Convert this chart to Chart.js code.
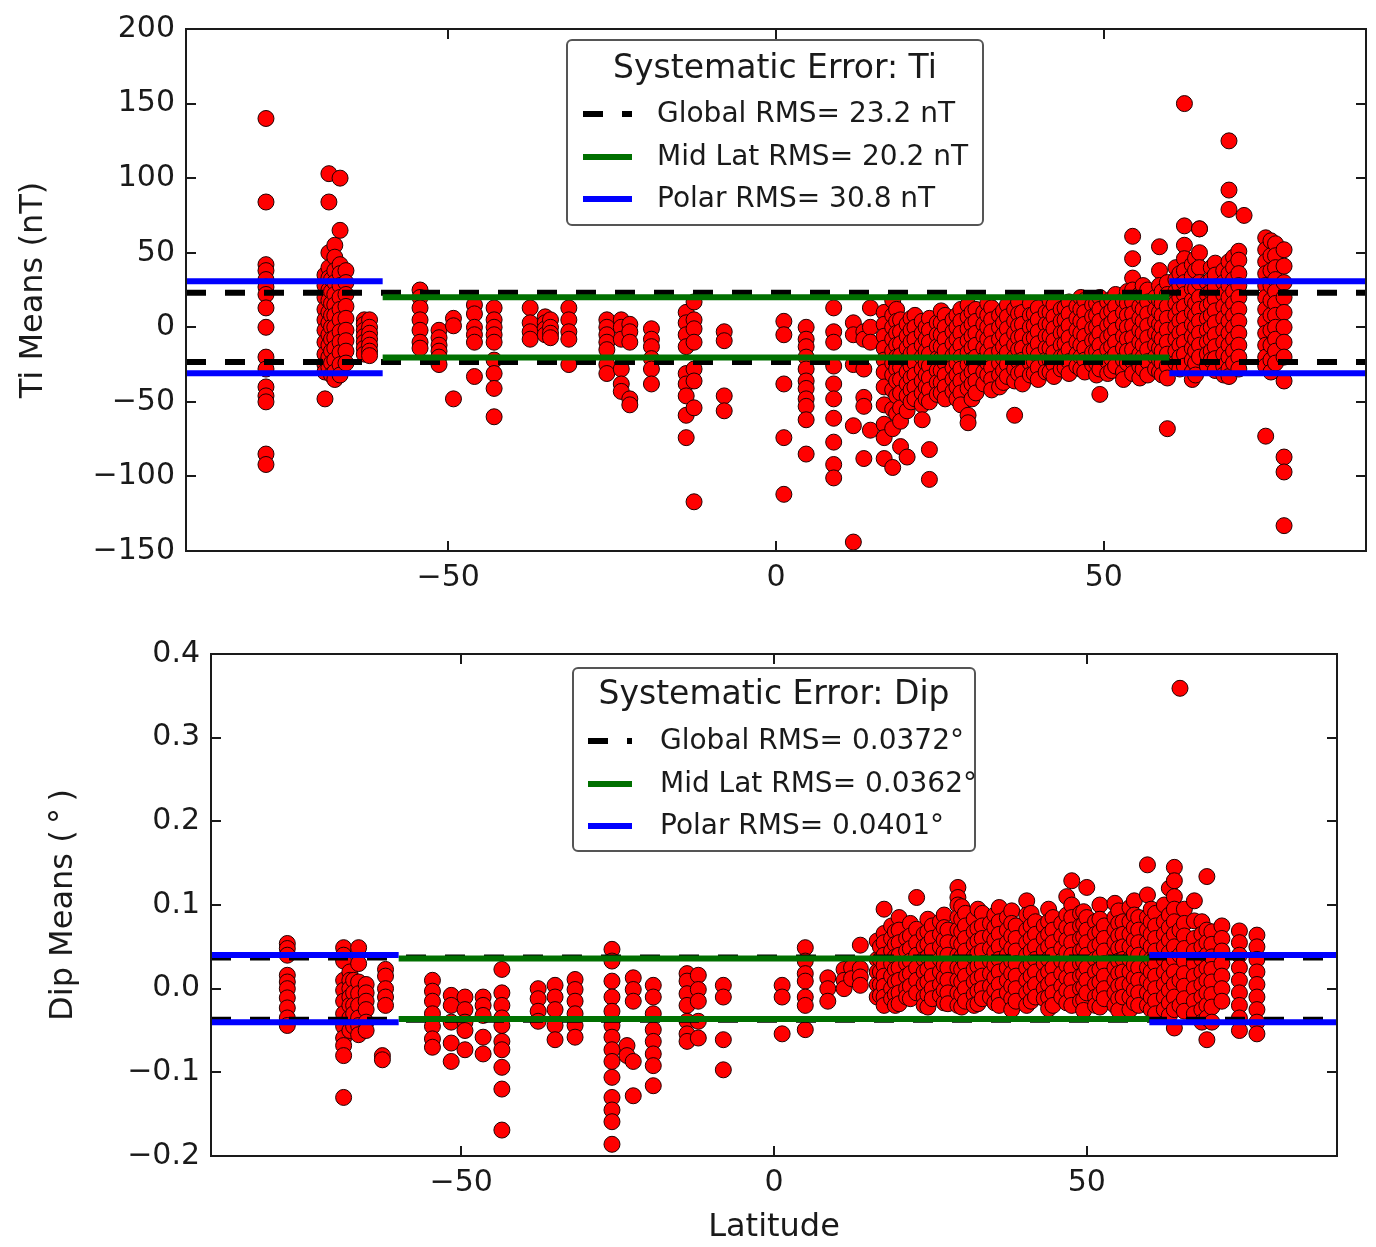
<!DOCTYPE html>
<html>
<head>
<meta charset="utf-8">
<script src="https://cdn.jsdelivr.net/npm/chart.js@4.4.1/dist/chart.umd.min.js"></script>
<style>
  html, body { margin: 0; padding: 0; background: #fff; }
  #wrap { position: relative; width: 1376px; height: 1247px; }
  canvas { position: absolute; left: 0; }
</style>
</head>
<body>
<div id="wrap">
  <canvas id="tiChart" width="1376" height="615" style="top:0px"></canvas>
  <canvas id="dipChart" width="1376" height="632" style="top:615px"></canvas>
</div>
<script>
// station latitudes and the mean values found at each one
var tiLat = [-77.8, -68.8, -68.2, -67.8, -67.3, -66.5, -65.6, -62.8, -62.0, -54.3, -51.4, -49.2, -46.0, -43.0,
  -37.5, -35.2, -34.4, -31.6, -25.8, -23.6, -22.3, -19.0, -13.7, -12.5, -7.9, 1.2, 4.6, 8.8, 11.8, 13.4, 14.4,
  16.5, 17.8, 18.4, 19.0, 20.0, 20.6, 21.2, 22.3, 22.9, 23.4, 24.6, 25.2, 25.8, 27.0, 27.6, 28.2, 29.3, 29.9,
  30.5, 31.7, 32.3, 32.9, 34.1, 34.7, 35.3, 36.4, 37.0, 37.6, 38.8, 39.4, 40.0, 41.2, 41.8, 42.4, 43.5, 44.1,
  44.7, 45.9, 46.5, 47.1, 48.3, 48.9, 49.4, 50.6, 51.2, 51.8, 53.0, 53.6, 54.4, 55.5, 56.0, 56.7, 57.9,
  58.5, 58.9, 59.7, 61.0, 61.6, 62.3, 63.5, 64.0, 64.6, 65.8, 66.4, 67.0, 68.3, 69.1, 69.8, 70.6, 71.4,
  74.7, 75.5, 76.2, 77.5];

var tiVals = [
  [140, 84, 42, 38, 32, 27, 22, 13, 0, -20, -28, -40, -46, -50, -85, -92],
  [-48, 35, 28, 20, 12, 5, -2, -10, -18, -25, -30],
  [103, 84, 50, 40, 33, 25, 18, 10, 3, -5, -12, -20, -27],
  [32, 24, 16, 8, 0, -8, -16, -24, -32],
  [55, 47, 38, 30, 22, 15, 8, 0, -7, -14, -22, -30, -35],
  [100, 65, 42, 36, 28, 20, 12, 5, -3, -10, -17, -25, -32],
  [38, 30, 22, 14, 6, -2, -9, -16, -24],
  [5, 2, -2, -6, -10, -14, -18],
  [5, 0, -4, -8, -12, -16, -19],
  [25, 20, 13, 5, -2, -10, -14],
  [-2, -7, -12, -16, -20, -25],
  [6, 1, -48],
  [15, 9, 0, -5, -10, -33],
  [13, 5, 0, -5, -10, -22, -31, -41, -60],
  [13, 3, -3, -8],
  [7, 3, -1, -5],
  [5, 0, -4, -7],
  [13, 5, -3, -8, -25],
  [5, 0, -5, -10, -15, -25, -31],
  [5, 0, -8, -28, -38, -43],
  [2, -3, -10, -48, -52],
  [-1, -8, -13, -21, -28, -38],
  [10, 3, -5, -13, -31, -38, -46, -59, -74],
  [17, 5, -1, -10, -28, -36, -54, -117],
  [-3, -9, -46, -56],
  [4, -5, -38, -74, -112],
  [0, -8, -13, -20, -28, -36, -41, -48, -53, -62, -85],
  [13, -3, -10, -26, -38, -48, -61, -77, -92, -101],
  [3, -5, -25, -66, -144],
  [-3, -8, -28, -47, -53, -88],
  [13, 0, -10, -69],
  [10, 2, -6, -14, -22, -30, -40, -52, -65, -74, -88],
  [18, 8, 0, -8, -16, -24, -32, -42, -55, -68, -94],
  [12, 4, -4, -12, -20, -28, -36, -46, -58],
  [5, -3, -11, -19, -27, -35, -44, -54, -63, -80],
  [2, -6, -14, -22, -30, -38, -46, -56, -87],
  [6, -2, -10, -18, -26, -34, -42, -50],
  [8, 0, -8, -16, -24, -32, -40, -48],
  [4, -4, -12, -20, -28, -36, -44, -52, -62],
  [0, -8, -16, -24, -32, -40, -48],
  [6, -2, -10, -18, -26, -34, -42, -50, -82, -102],
  [3, -5, -13, -21, -29, -37, -45],
  [11, 3, -5, -13, -21, -29, -37, -44],
  [8, 0, -8, -16, -24, -32, -40, -48],
  [5, -3, -11, -19, -27, -35, -43],
  [8, 0, -8, -16, -24, -32, -40, -48],
  [12, 4, -4, -12, -20, -28, -36, -44, -52],
  [15, 7, -1, -9, -17, -25, -33, -41, -59, -64],
  [10, 2, -6, -14, -22, -30, -38, -48],
  [12, 4, -4, -12, -20, -28, -36, -44],
  [10, 2, -6, -14, -22, -30, -38],
  [16, 8, 0, -8, -16, -24, -32],
  [13, 5, -3, -11, -19, -27, -35, -42],
  [8, 0, -8, -16, -24, -32, -40],
  [11, 3, -5, -13, -21, -29, -37],
  [15, 7, -1, -9, -17, -25, -33],
  [12, 4, -4, -12, -20, -28, -36, -59],
  [17, 9, 1, -7, -15, -23, -31],
  [10, 2, -6, -14, -22, -30, -38],
  [16, 8, 0, -8, -16, -24, -32],
  [9, 1, -7, -15, -23, -31],
  [13, 5, -3, -11, -19, -27, -35],
  [10, 2, -6, -14, -22, -30],
  [18, 10, 2, -6, -14, -22, -30],
  [15, 7, -1, -9, -17, -25, -33],
  [12, 4, -4, -12, -20, -28],
  [13, 5, -3, -11, -19, -27],
  [17, 9, 1, -7, -15, -23, -31],
  [14, 6, -2, -10, -18, -26],
  [20, 12, 4, -4, -12, -20, -28],
  [18, 10, 2, -6, -14, -22, -30],
  [15, 7, -1, -9, -17, -25],
  [16, 8, 0, -8, -16, -24, -32],
  [20, 12, 4, -4, -12, -20, -28, -45],
  [17, 9, 1, -7, -15, -23, -31],
  [19, 11, 3, -5, -13, -21, -29],
  [22, 14, 6, -2, -10, -18, -26],
  [18, 10, 2, -6, -14, -22, -30, -35],
  [24, 16, 8, 0, -8, -16, -24],
  [61, 46, 33, 25, 17, 9, 1, -7, -15, -23, -31],
  [22, 14, 6, -2, -10, -18, -26, -34],
  [28, 20, 12, 4, -4, -12, -20, -28],
  [25, 17, 9, 1, -7, -15, -23, -32],
  [20, 12, 4, -4, -12, -20, -28],
  [54, 38, 28, 18, 10, 2, -6, -14, -22, -30],
  [24, 16, 8, 0, -8, -16, -24, -32],
  [30, 22, 14, 6, -2, -10, -18, -26, -34, -68],
  [40, 32, 24, 16, 8, 0, -8, -16, -24],
  [36, 28, 20, 12, 4, -4, -12, -20, -28],
  [150, 68, 55, 46, 38, 30, 22, 14, 6, -2, -10, -18, -26],
  [42, 34, 26, 18, 10, 2, -6, -14, -22, -30, -35],
  [46, 38, 26, 16, 8, 0, -8, -16, -24, -32],
  [66, 66, 50, 40, 30, 20, 12, 4, -4, -12, -20],
  [30, 22, 14, 6, -2, -10, -18, -26],
  [40, 32, 24, 16, 8, 0, -8, -16, -22],
  [43, 35, 27, 19, 11, 3, -5, -13, -21, -29],
  [38, 30, 22, 14, 6, -2, -10, -18, -26, -32],
  [125, 92, 79, 44, 36, 28, 20, 12, 4, -4, -12, -20, -28, -33],
  [47, 40, 32, 24, 16, 8, 0, -8, -16, -24],
  [51, 45, 36, 28, 20, 12, 4, -4, -12, -20, -28],
  [75],
  [60, 52, 44, 36, 28, 20, 12, 4, -4, -12, -20, -26, -73],
  [58, 48, 38, 28, 18, 8, -2, -12, -22, -30],
  [56, 48, 40, 32, 24, 16, 8, 0, -8, -16, -24],
  [52, 41, 30, 20, 10, 0, -10, -20, -36, -87, -97, -133]
];

var dipLat = [-77.8, -68.8, -67.8, -67.2, -66.4, -65.2, -62.6, -62.1, -54.6, -51.6, -49.4, -46.5, -43.5, -37.7,
  -35.0, -31.8, -25.9, -23.5, -22.5, -19.3, -13.9, -12.1, -8.1, 1.3, 5.0, 8.6, 11.2, 12.4, 13.8,
  16.5, 17.0, 17.6, 18.8, 19.4, 20.0, 21.2, 21.8, 22.8, 24.0, 24.6, 25.3, 26.6, 27.2, 27.8, 29.4, 30.0,
  30.6, 32.0, 32.6, 33.3, 34.6, 35.3, 36.0, 37.3, 38.0, 38.7, 40.4, 41.1, 41.8, 43.2, 43.9, 44.6, 46.0,
  46.8, 47.6, 49.0, 49.5, 50.0, 51.4, 52.1, 52.8, 54.5, 55.1, 55.8, 56.9, 57.6, 58.3, 59.7,
  60.3, 61.0, 62.4, 63.2, 64.0, 64.9, 65.6, 67.2, 68.4, 69.2, 70.0, 71.6, 74.4, 77.2];

var dipVals = [
  [0.054, 0.048, 0.040, 0.016, 0.008, 0.0, -0.011, -0.023, -0.035, -0.044],
  [0.049, 0.04, 0.033, 0.01, -0.002, -0.015, -0.03, -0.045, -0.059, -0.068, -0.08, -0.13],
  [0.02, 0.01, 0.0, -0.01, -0.02, -0.035, -0.05],
  [0.01, -0.005, -0.02, -0.03, -0.045],
  [0.049, 0.03, 0.008, -0.006, -0.02, -0.035, -0.044, -0.055],
  [0.005, -0.005, -0.015, -0.025, -0.04, -0.05],
  [-0.08, -0.085],
  [0.023, 0.015, 0.0, -0.01, -0.02],
  [0.01, -0.003, -0.015, -0.03, -0.045, -0.06, -0.07],
  [-0.008, -0.02, -0.04, -0.065, -0.087],
  [-0.01, -0.025, -0.04, -0.05, -0.073],
  [-0.01, -0.02, -0.032, -0.058, -0.078],
  [0.023, -0.005, -0.02, -0.035, -0.044, -0.063, -0.073, -0.094, -0.12, -0.169],
  [0.0, -0.012, -0.027, -0.039],
  [0.004, -0.01, -0.025, -0.044, -0.061],
  [0.011, -0.001, -0.015, -0.03, -0.044, -0.058],
  [0.047, 0.033, 0.009, -0.01, -0.027, -0.044, -0.058, -0.073, -0.087, -0.106, -0.13, -0.145, -0.159, -0.186],
  [-0.068, -0.08],
  [0.013, -0.001, -0.015, -0.087, -0.128],
  [0.004, -0.01, -0.03, -0.049, -0.063, -0.078, -0.092, -0.116],
  [0.018, 0.009, -0.006, -0.02, -0.039, -0.054, -0.063],
  [0.016, -0.001, -0.015, -0.039, -0.059],
  [0.004, -0.01, -0.061, -0.097],
  [0.004, -0.01, -0.054],
  [0.049, 0.033, 0.018, 0.009, -0.01, -0.02, -0.049],
  [0.013, 0.0, -0.015],
  [0.023, 0.01, 0.0],
  [0.025, 0.012],
  [0.052, 0.024, 0.014, 0.004],
  [0.057, 0.035, 0.02, 0.005, -0.01],
  [0.05, 0.035, 0.02, 0.005, -0.008],
  [0.095, 0.066, 0.055, 0.04, 0.028, 0.015, 0.003, -0.01, -0.02],
  [0.075, 0.06, 0.045, 0.03, 0.015, 0.0, -0.012],
  [0.068, 0.053, 0.038, 0.023, 0.008, -0.007, -0.02],
  [0.085, 0.07, 0.055, 0.04, 0.025, 0.01, -0.005, -0.018],
  [0.06, 0.045, 0.03, 0.015, 0.0, -0.01],
  [0.078, 0.063, 0.048, 0.033, 0.018, 0.003, -0.012],
  [0.109, 0.071, 0.055, 0.04, 0.025, 0.01, -0.005],
  [0.065, 0.05, 0.035, 0.02, 0.005, -0.01, -0.02],
  [0.083, 0.068, 0.053, 0.038, 0.023, 0.008, -0.007, -0.022],
  [0.075, 0.06, 0.045, 0.03, 0.015, 0.0, -0.012],
  [0.08, 0.065, 0.05, 0.035, 0.02, 0.005, -0.008],
  [0.088, 0.073, 0.058, 0.043, 0.028, 0.013, -0.002, -0.017],
  [0.07, 0.055, 0.04, 0.025, 0.01, -0.005, -0.018],
  [0.121, 0.109, 0.1, 0.085, 0.07, 0.055, 0.04, 0.025, 0.01, -0.005, -0.02],
  [0.098, 0.083, 0.068, 0.053, 0.038, 0.023, 0.008, -0.007, -0.022],
  [0.09, 0.075, 0.06, 0.045, 0.03, 0.015, 0.0, -0.015],
  [0.083, 0.068, 0.053, 0.038, 0.023, 0.008, -0.007, -0.02],
  [0.095, 0.072, 0.057, 0.042, 0.027, 0.012, -0.003, -0.018],
  [0.09, 0.075, 0.06, 0.045, 0.03, 0.015, 0.0, -0.012],
  [0.078, 0.063, 0.048, 0.033, 0.018, 0.003, -0.01],
  [0.088, 0.073, 0.058, 0.043, 0.028, 0.013, -0.002, -0.017],
  [0.097, 0.08, 0.065, 0.05, 0.035, 0.02, 0.005, -0.01, -0.02],
  [0.085, 0.07, 0.055, 0.04, 0.025, 0.01, -0.005],
  [0.093, 0.078, 0.063, 0.048, 0.033, 0.018, 0.003, -0.012, -0.025],
  [0.075, 0.06, 0.045, 0.03, 0.015, 0.0, -0.015],
  [0.105, 0.088, 0.07, 0.055, 0.04, 0.025, 0.01, -0.005, -0.02],
  [0.09, 0.075, 0.06, 0.045, 0.03, 0.015, 0.0, -0.015],
  [0.08, 0.065, 0.05, 0.035, 0.02, 0.005, -0.01],
  [0.075, 0.06, 0.045, 0.03, 0.015, 0.0, -0.012],
  [0.095, 0.08, 0.065, 0.05, 0.035, 0.02, 0.005, -0.01, -0.024],
  [0.085, 0.07, 0.055, 0.04, 0.025, 0.01, -0.005, -0.02],
  [0.078, 0.063, 0.048, 0.033, 0.018, 0.003, -0.01],
  [0.11, 0.088, 0.073, 0.058, 0.043, 0.028, 0.013, -0.002, -0.017],
  [0.129, 0.1, 0.085, 0.07, 0.055, 0.04, 0.025, 0.01, -0.005, -0.02],
  [0.09, 0.075, 0.06, 0.045, 0.03, 0.015, 0.0, -0.015],
  [0.092, 0.077, 0.062, 0.047, 0.032, 0.017, 0.002, -0.013, -0.026],
  [0.121, 0.085, 0.07, 0.055, 0.04, 0.025, 0.01, -0.005],
  [0.08, 0.065, 0.05, 0.035, 0.02, 0.005, -0.01, -0.02],
  [0.1, 0.083, 0.068, 0.053, 0.038, 0.023, 0.008, -0.007, -0.022],
  [0.075, 0.06, 0.045, 0.03, 0.015, 0.0, -0.012],
  [0.102, 0.085, 0.07, 0.055, 0.04, 0.025, 0.01, -0.005, -0.02],
  [0.093, 0.078, 0.063, 0.048, 0.033, 0.018, 0.003, -0.012, -0.026],
  [0.08, 0.065, 0.05, 0.035, 0.02, 0.005, -0.01],
  [0.097, 0.08, 0.065, 0.05, 0.035, 0.02, 0.005, -0.01, -0.025],
  [0.105, 0.088, 0.073, 0.058, 0.043, 0.028, 0.013, -0.002, -0.017],
  [0.085, 0.07, 0.055, 0.04, 0.025, 0.01, -0.005, -0.02],
  [0.148, 0.112, 0.085, 0.07, 0.055, 0.04, 0.025, 0.01, -0.005, -0.02],
  [0.095, 0.08, 0.065, 0.05, 0.035, 0.02, 0.005, -0.01, -0.025],
  [0.09, 0.075, 0.06, 0.045, 0.03, 0.015, 0.0, -0.015, -0.03],
  [0.1, 0.08, 0.065, 0.05, 0.035, 0.02, 0.005, -0.01, -0.025],
  [0.12, 0.088, 0.073, 0.058, 0.043, 0.028, 0.013, -0.002, -0.017, -0.032],
  [0.145, 0.129, 0.11, 0.095, 0.08, 0.065, 0.05, 0.035, 0.02, 0.005, -0.01, -0.025, -0.047],
  [0.359, 0.07, 0.04, 0.01, -0.02],
  [0.095, 0.078, 0.063, 0.048, 0.033, 0.018, 0.003, -0.012, -0.027],
  [0.105, 0.081, 0.06, 0.045, 0.03, 0.015, 0.0, -0.015, -0.03],
  [0.08, 0.065, 0.05, 0.035, 0.02, 0.005, -0.01, -0.025, -0.04],
  [0.134, 0.07, 0.055, 0.04, 0.025, 0.01, -0.005, -0.02, -0.035, -0.061],
  [0.068, 0.053, 0.038, 0.023, 0.008, -0.007, -0.022, -0.04],
  [0.075, 0.06, 0.045, 0.03, 0.015, 0.0, -0.015],
  [0.069, 0.055, 0.04, 0.025, 0.01, -0.005, -0.02, -0.035, -0.05],
  [0.064, 0.05, 0.035, 0.02, 0.005, -0.01, -0.025, -0.04, -0.054]
];

// RMS levels: global, mid latitude, polar
var rmsNames = ['Global', 'Mid Lat', 'Polar'];
var tiRms = [23.2, 20.2, 30.8];
var dipRms = [0.0372, 0.0362, 0.0401];
var latRange = [-90, 90];
var midBand = [-60, 60];

var latTicks = [-50, 0, 50];
var tiTicks = [-150, -100, -50, 0, 50, 100, 150, 200];
var dipTicks = [-0.2, -0.1, 0.0, 0.1, 0.2, 0.3, 0.4];

var FONT = '"DejaVu Sans", "Bitstream Vera Sans", sans-serif';

function toPoints(lats, vals) {
  var pts = [];
  lats.forEach(function (lat, i) {
    vals[i].forEach(function (v) { pts.push({x: lat, y: v}); });
  });
  return pts;
}

// +/- level pairs, segments separated by a null point
function levelLine(level, segs) {
  var d = [];
  [level, -level].forEach(function (lv) {
    segs.forEach(function (s) {
      d.push({x: s[0], y: lv}, {x: s[1], y: lv}, {x: s[1], y: null});
    });
  });
  return d;
}

function rmsDatasets(levels, fmt) {
  var styles = [
    {borderColor: '#000000', borderDash: [20, 19], order: 3},
    {borderColor: '#007000', borderDash: [], order: 2},
    {borderColor: '#0000ff', borderDash: [], order: 1}
  ];
  var segs = [
    [latRange],
    [midBand],
    [[latRange[0], midBand[0]], [midBand[1], latRange[1]]]
  ];
  return levels.map(function (lv, i) {
    return {
      type: 'line',
      legendText: rmsNames[i] + ' RMS= ' + fmt(lv),
      data: levelLine(lv, segs[i]),
      borderColor: styles[i].borderColor,
      borderDash: styles[i].borderDash,
      borderWidth: 6,
      borderCapStyle: 'butt',
      pointRadius: 0,
      showLine: true,
      spanGaps: false,
      tension: 0,
      order: styles[i].order
    };
  });
}

function minus(s) { return String(s).replace('-', '\u2212'); }

// frame with inward tick marks on all four sides
var frameTicks = {
  id: 'frameTicks',
  afterDraw: function (chart) {
    var ctx = chart.ctx, a = chart.chartArea, sx = chart.scales.x, sy = chart.scales.y;
    ctx.save();
    ctx.strokeStyle = '#1a1a1a';
    ctx.lineWidth = 2;
    ctx.beginPath();
    sx.ticks.forEach(function (t) {
      var px = Math.round(sx.getPixelForValue(t.value));
      ctx.moveTo(px, a.bottom); ctx.lineTo(px, a.bottom - 10);
      ctx.moveTo(px, a.top); ctx.lineTo(px, a.top + 10);
    });
    sy.ticks.forEach(function (t) {
      var py = Math.round(sy.getPixelForValue(t.value));
      ctx.moveTo(a.left, py); ctx.lineTo(a.left + 10, py);
      ctx.moveTo(a.right, py); ctx.lineTo(a.right - 10, py);
    });
    ctx.stroke();
    ctx.strokeRect(a.left, a.top, a.right - a.left, a.bottom - a.top);
    ctx.restore();
  }
};

// boxed legend inside the plot, one row per RMS level
var boxLegend = {
  id: 'boxLegend',
  afterDatasetsDraw: function (chart, args, opts) {
    var ctx = chart.ctx, b = opts.box;
    ctx.save();
    ctx.fillStyle = '#ffffff';
    ctx.strokeStyle = '#555555';
    ctx.lineWidth = 2;
    ctx.beginPath();
    ctx.roundRect(b[0], b[1], b[2], b[3], 5);
    ctx.fill();
    ctx.stroke();
    ctx.fillStyle = '#1a1a1a';
    ctx.textBaseline = 'middle';
    ctx.textAlign = 'center';
    ctx.font = '33px ' + FONT;
    ctx.fillText(opts.title, b[0] + b[2] / 2, opts.titleY);
    ctx.textAlign = 'left';
    ctx.font = '28px ' + FONT;
    chart.data.datasets.filter(function (d) { return d.legendText; }).forEach(function (d, i) {
      var y = opts.rowY[i];
      ctx.strokeStyle = d.borderColor;
      ctx.lineWidth = d.borderWidth;
      ctx.setLineDash(d.borderDash);
      ctx.beginPath();
      ctx.moveTo(opts.handle[0], y);
      ctx.lineTo(opts.handle[1], y);
      ctx.stroke();
      ctx.setLineDash([]);
      ctx.fillText(d.legendText, opts.textX, y + 1);
    });
    ctx.restore();
  }
};

function makeChart(id, cfg) {
  var tickFont = {family: FONT, size: 30};
  var titleFont = {family: FONT, size: 32};
  return new Chart(document.getElementById(id), {
    type: 'scatter',
    data: {
      datasets: [{
        data: toPoints(cfg.lats, cfg.vals),
        backgroundColor: '#ff0000',
        borderColor: '#200000',
        borderWidth: 1,
        pointRadius: 8,
        order: 4
      }].concat(rmsDatasets(cfg.rms, cfg.fmt))
    },
    options: {
      responsive: false,
      animation: false,
      events: [],
      layout: {padding: cfg.padding},
      scales: {
        x: {
          type: 'linear',
          min: latRange[0],
          max: latRange[1],
          grid: {display: false, drawTicks: false},
          border: {display: false},
          afterBuildTicks: function (s) { s.ticks = latTicks.map(function (v) { return {value: v}; }); },
          afterFit: function (s) { s.height = cfg.xHeight; },
          ticks: {font: tickFont, color: '#1a1a1a', padding: cfg.xPad, maxRotation: 0,
            callback: function (v) { return minus(v); }},
          title: cfg.xTitle ? {display: true, text: cfg.xTitle, font: titleFont, color: '#1a1a1a',
            padding: {top: 0, bottom: 0}} : {display: false}
        },
        y: {
          type: 'linear',
          min: cfg.yTicks[0],
          max: cfg.yTicks[cfg.yTicks.length - 1],
          grid: {display: false, drawTicks: false},
          border: {display: false},
          afterBuildTicks: function (s) { s.ticks = cfg.yTicks.map(function (v) { return {value: v}; }); },
          afterFit: function (s) { s.width = cfg.yWidth; },
          ticks: {font: tickFont, color: '#1a1a1a', padding: 11,
            callback: function (v) { return minus(cfg.yFmt(v)); }},
          title: {display: true, text: cfg.yTitle, font: titleFont, color: '#1a1a1a',
            padding: {top: cfg.yTitlePad, bottom: 0}}
        }
      },
      plugins: {
        legend: {display: false},
        tooltip: {enabled: false},
        boxLegend: cfg.legend
      }
    },
    plugins: [boxLegend, frameTicks]
  });
}

makeChart('tiChart', {
  lats: tiLat, vals: tiVals, rms: tiRms,
  fmt: function (v) { return v.toFixed(1) + ' nT'; },
  yTicks: tiTicks,
  yFmt: function (v) { return String(v); },
  yTitle: 'Ti Means (nT)', yTitlePad: 14,
  padding: {top: 24, right: 10, bottom: 0, left: 0},
  yWidth: 186, xHeight: 64, xPad: 9,
  legend: {title: 'Systematic Error: Ti', box: [567, 40, 416, 185], titleY: 69,
    rowY: [114, 157, 199], handle: [583, 632], textX: 657}
});

makeChart('dipChart', {
  lats: dipLat, vals: dipVals, rms: dipRms,
  fmt: function (v) { return v.toFixed(4) + '\u00b0'; },
  yTicks: dipTicks,
  yFmt: function (v) { return v.toFixed(1); },
  yTitle: 'Dip Means (\u2009\u00b0\u2009)', yTitlePad: 44,
  xTitle: 'Latitude',
  padding: {top: 39, right: 39, bottom: 0, left: 0},
  yWidth: 211, xHeight: 91, xPad: 9,
  legend: {title: 'Systematic Error: Dip', box: [573, 53, 402, 183], titleY: 80,
    rowY: [126, 169, 211], handle: [588, 632], textX: 660}
});
</script>
</body>
</html>
